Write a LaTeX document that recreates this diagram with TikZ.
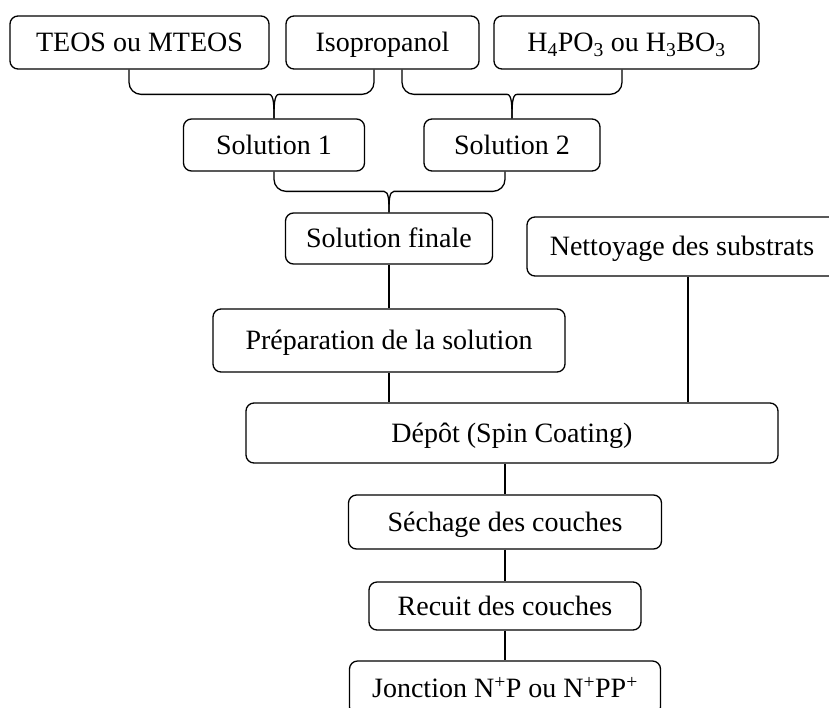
\documentclass[tikz,border=0pt]{standalone}
\usepackage{fontspec}
\setmainfont{Liberation Serif}
\usetikzlibrary{calc}
\tikzset{etape/.style={draw,rounded corners=8pt,line width=1.3pt,inner sep=0pt,
    text height=18.5pt,text depth=0pt,font=\fontsize{28}{32}\selectfont}}
% accolade: two ends (#1, #2), tip (#3), depth of the tip (#4)
\newcommand{\accolade}[4]{%
  \draw[rounded corners=12pt] (#1) |- ($(#3)+(-17,-#4)$) .. controls ($(#3)+(0,-#4)$) and ($(#3)+(0,-#4/2)$) .. (#3);
  \draw[rounded corners=12pt] (#2) |- ($(#3)+(17,-#4)$) .. controls ($(#3)+(0,-#4)$) and ($(#3)+(0,-#4/2)$) .. (#3);}

\begin{document}
\begin{tikzpicture}[x=1pt,y=-1pt,line width=1.3pt]
    \useasboundingbox (0,0) rectangle (829,707);
    \clip (0,0) rectangle (829,707);
    % reactifs
    \node[etape,minimum width=259pt,minimum height=53pt] (teos) at (139.5,42.5) {TEOS ou MTEOS};
    \node[etape,minimum width=193pt,minimum height=53pt] (iso) at (382.5,42.5) {Isopropanol};
    \node[etape,minimum width=265pt,minimum height=53pt] (acide) at (626.5,42.5) {H\textsubscript{4}PO\textsubscript{3} ou H\textsubscript{3}BO\textsubscript{3}};
    % solutions
    \node[etape,minimum width=181pt,minimum height=52pt] (sol1) at (274,145) {Solution 1};
    \node[etape,minimum width=176pt,minimum height=52pt] (sol2) at (512,145) {Solution 2};
    \node[etape,minimum width=207pt,minimum height=51pt] (solf) at (389,238.5) {Solution finale};
    \node[etape,minimum width=310pt,minimum height=59pt] (nett) at (682,246.5) {Nettoyage des substrats};
    \node[etape,minimum width=352pt,minimum height=63pt] (prep) at (389,340.5) {Préparation de la solution};
    % etapes du procede
    \node[etape,minimum width=532pt,minimum height=60pt] (depot) at (512,433) {Dépôt (Spin Coating)};
    \node[etape,minimum width=313pt,minimum height=54pt] (sech) at (505,522) {Séchage des couches};
    \node[etape,minimum width=272pt,minimum height=48pt] (recuit) at (505,606) {Recuit des couches};
    \node[etape,minimum width=311pt,minimum height=54pt] (jonc) at (505,688) {Jonction N\textsuperscript{+}P ou N\textsuperscript{+}PP\textsuperscript{+}};
    % ends of the braces
    \coordinate (a1) at ($(teos.south)+(-10.5,0)$);
    \coordinate (b1) at ($(iso.south)+(-8.5,0)$);
    \coordinate (a2) at ($(iso.south)+(19.5,0)$);
    \coordinate (b2) at ($(acide.south)+(-4.5,0)$);
    \coordinate (b3) at ($(sol2.south)+(-7,0)$);
    \coordinate (n1) at ($(nett.south)+(6,0)$);
    \accolade{a1}{b1}{sol1.north}{24}
    \accolade{a2}{b2}{sol2.north}{24}
    \accolade{sol1.south}{b3}{solf.north}{21}
    % liaisons
    \draw (solf.south) -- (solf.south |- prep.north);
    \draw (prep.south) -- (prep.south |- depot.north);
    \draw (n1) -- (n1 |- depot.north);
    \draw (sech.north |- depot.south) -- (sech.north);
    \draw (sech.south) -- (recuit.north);
    \draw (recuit.south) -- (jonc.north);
\end{tikzpicture}
\end{document}
